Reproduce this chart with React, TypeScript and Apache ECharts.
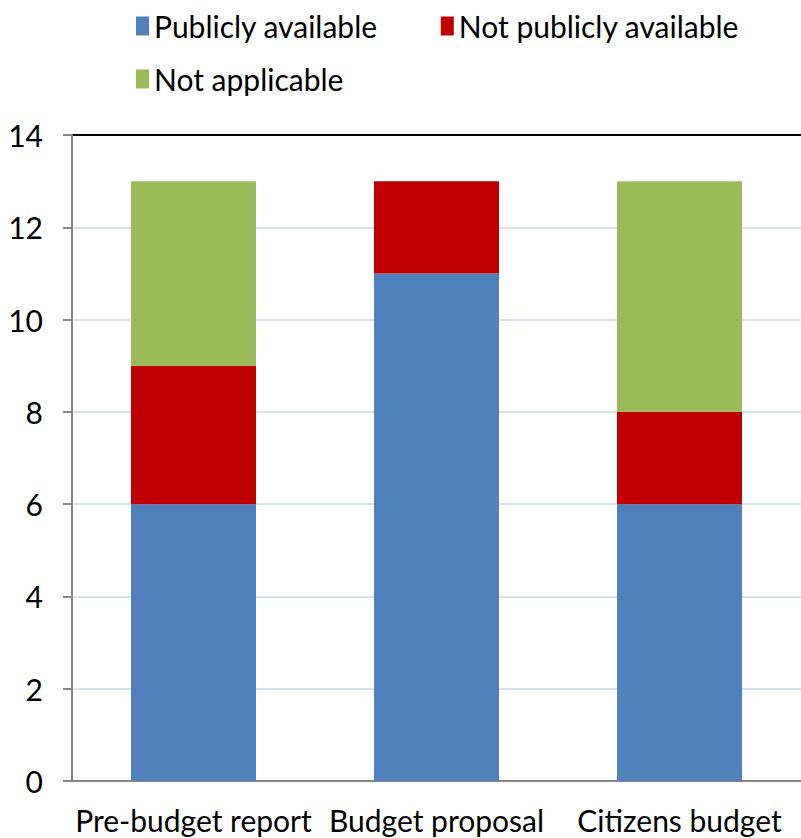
import React, { useEffect, useRef } from "react";
import * as echarts from "echarts";

const categories = ["Pre-budget report", "Budget proposal", "Citizens budget"];
const publiclyAvailable = [6, 11, 6];
const notPubliclyAvailable = [3, 2, 2];
const notApplicable = [4, 0, 5];
const seriesNames = ["Publicly available", "Not publicly available", "Not applicable"];

const FONT = "Lato, 'Open Sans', sans-serif";
const FS = 30;

export default function App() {
  const ref = useRef<HTMLDivElement>(null);
  useEffect(() => {
    const chart = echarts.init(ref.current!, null, { renderer: "svg" });
    const gridColors = ["#D9E1EC", "#D9E1EC", "#D9E1EC", "#D9E1EC", "#D9E1EC", "#D9E1EC", "#D9E1EC", "#000000"];
    const legendText = { fontSize: FS, color: "#000", fontFamily: FONT };
    chart.setOption({
      animation: false,
      textStyle: { fontFamily: FONT },
      legend: [
        {
          data: [seriesNames[0], seriesNames[1]],
          left: 131,
          top: 6,
          itemWidth: 13,
          itemHeight: 19,
          itemGap: 63,
          icon: "rect",
          textStyle: legendText,
        },
        {
          data: [seriesNames[2]],
          left: 131,
          top: 59,
          itemWidth: 13,
          itemHeight: 19,
          icon: "rect",
          textStyle: legendText,
        },
      ],
      grid: { left: 72, right: -6, top: 135, bottom: 57, containLabel: false },
      xAxis: {
        type: "category",
        data: categories,
        axisLine: { lineStyle: { color: "#868686", width: 2 } },
        axisTick: { show: false },
        axisLabel: { fontSize: FS, color: "#000", margin: 24, interval: 0, fontFamily: FONT },
      },
      yAxis: {
        type: "value",
        min: 0,
        max: 14,
        interval: 2,
        axisLine: { show: true, lineStyle: { color: "#868686", width: 2 } },
        axisTick: { show: true, length: 9, lineStyle: { color: "#868686", width: 2 } },
        axisLabel: { fontSize: FS, color: "#000", margin: 29, fontFamily: FONT },
        splitLine: { show: true, lineStyle: { color: gridColors, width: 2 } },
      },
      series: [
        { name: seriesNames[0], type: "bar", stack: "s", data: publiclyAvailable, barWidth: 125, itemStyle: { color: "#4F81BD" } },
        { name: seriesNames[1], type: "bar", stack: "s", data: notPubliclyAvailable, barWidth: 125, itemStyle: { color: "#C00000" } },
        { name: seriesNames[2], type: "bar", stack: "s", data: notApplicable, barWidth: 125, itemStyle: { color: "#9BBB59" } },
      ],
    });
    return () => chart.dispose();
  }, []);
  return <div ref={ref} style={{ width: 801, height: 838, position: "absolute", left: 0, top: 0 }} />;
}
